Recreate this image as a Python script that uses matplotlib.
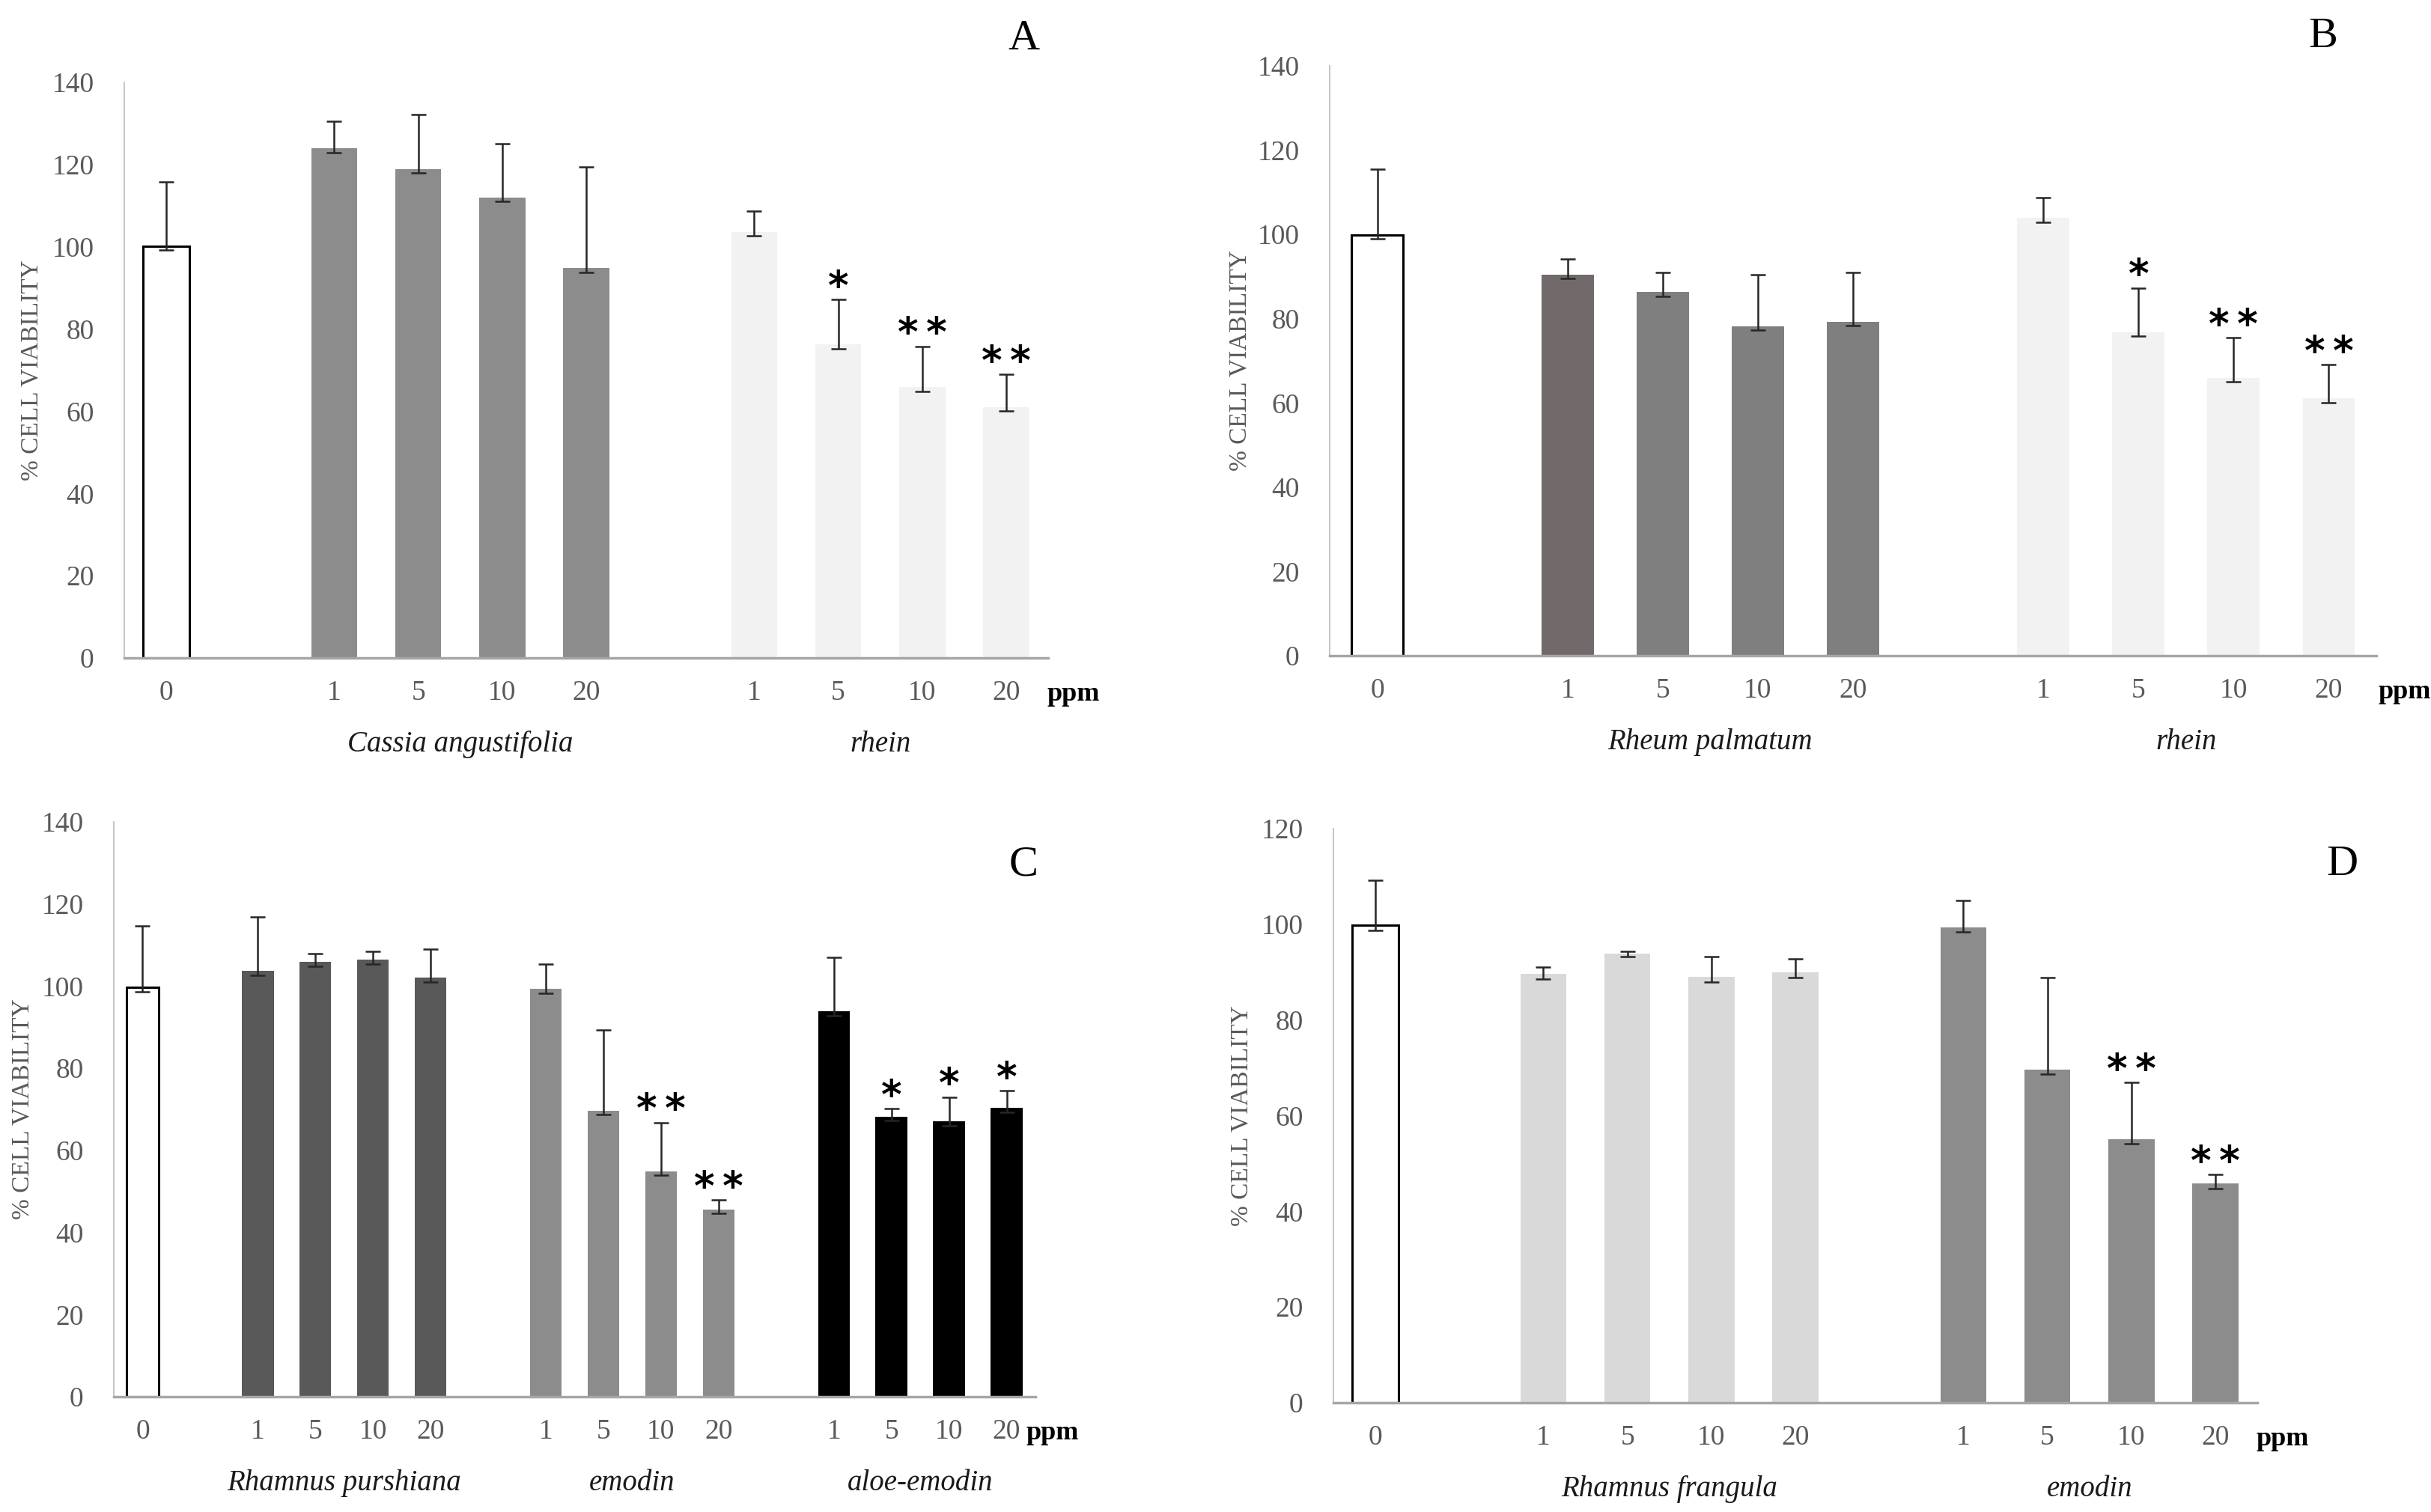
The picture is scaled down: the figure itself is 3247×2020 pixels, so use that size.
import matplotlib.pyplot as plt
import numpy as np

plt.rcParams['font.family'] = ['Liberation Serif', 'DejaVu Serif']

W, H = 3248, 2020
doses = ['1', '5', '10', '20']

# --- Panel A ---
a_control, a_control_err = 100.2, 15.6
a_cassia = [123.9, 118.9, 112.0, 94.8]
a_cassia_err = [6.6, 13.2, 13.0, 24.7]
a_rhein = [103.6, 76.2, 65.9, 61.0]
a_rhein_err = [5.1, 11.0, 9.9, 8.0]
a_rhein_stars = ['', '*', '**', '**']

# --- Panel B ---
b_control, b_control_err = 99.9, 15.6
b_rheum = [90.5, 86.3, 78.2, 79.3]
b_rheum_err = [3.7, 4.7, 12.3, 11.7]
b_rhein = [103.9, 76.8, 66.0, 61.1]
b_rhein_err = [4.8, 10.5, 9.5, 8.0]
b_rhein_stars = ['', '*', '**', '**']

# --- Panel C ---
c_control, c_control_err = 99.7, 15.0
c_purshiana = [103.7, 105.9, 106.4, 102.0]
c_purshiana_err = [13.1, 2.1, 2.1, 7.1]
c_emodin = [99.3, 69.7, 54.9, 45.6]
c_emodin_err = [6.0, 19.7, 11.9, 2.3]
c_emodin_stars = ['', '', '**', '**']
c_aloe = [93.8, 68.2, 67.0, 70.3]
c_aloe_err = [13.2, 2.0, 6.0, 4.2]
c_aloe_stars = ['', '*', '*', '*']

# --- Panel D ---
d_control, d_control_err = 99.8, 9.4
d_frangula = [89.6, 93.8, 89.0, 89.9]
d_frangula_err = [1.5, 0.5, 4.3, 2.8]
d_emodin = [99.4, 69.7, 55.1, 45.8]
d_emodin_err = [5.6, 19.2, 11.8, 1.9]
d_emodin_stars = ['', '', '**', '**']

no_stars = ['', '', '', '']

panels = [
    dict(letter='A', rect=(166, 1400, 110, 879), ymax=140, letter_xy=(1367, 52), ylab_x=58,
         control=(a_control, a_control_err),
         groups=[('Cassia angustifolia', a_cassia, a_cassia_err, ['#8c8c8c'] * 4, no_stars),
                 ('rhein', a_rhein, a_rhein_err, ['#f2f2f2'] * 4, a_rhein_stars)]),
    dict(letter='B', rect=(1776, 3174, 88, 876), ymax=140, letter_xy=(3103, 49), ylab_x=1672,
         control=(b_control, b_control_err),
         groups=[('Rheum palmatum', b_rheum, b_rheum_err, ['#726a6a', '#7f7f7f', '#7f7f7f', '#7f7f7f'], no_stars),
                 ('rhein', b_rhein, b_rhein_err, ['#f2f2f2'] * 4, b_rhein_stars)]),
    dict(letter='C', rect=(152, 1383, 1098, 1866), ymax=140, letter_xy=(1367, 1155), ylab_x=46,
         control=(c_control, c_control_err),
         groups=[('Rhamnus purshiana', c_purshiana, c_purshiana_err, ['#595959'] * 4, no_stars),
                 ('emodin', c_emodin, c_emodin_err, ['#8c8c8c'] * 4, c_emodin_stars),
                 ('aloe-emodin', c_aloe, c_aloe_err, ['#000000'] * 4, c_aloe_stars)]),
    dict(letter='D', rect=(1781, 3015, 1107, 1874), ymax=120, letter_xy=(3128, 1155), ylab_x=1674,
         control=(d_control, d_control_err),
         groups=[('Rhamnus frangula', d_frangula, d_frangula_err, ['#d9d9d9'] * 4, no_stars),
                 ('emodin', d_emodin, d_emodin_err, ['#8c8c8c'] * 4, d_emodin_stars)]),
]

fig = plt.figure(figsize=(W / 100, H / 100), dpi=100)
fig.patch.set_facecolor('white')

for p in panels:
    x0, x1, ytop, ybot = p['rect']
    ax = fig.add_axes([x0 / W, (H - ybot) / H, (x1 - x0) / W, (ybot - ytop) / H])
    n_slots = 1 + 5 * len(p['groups'])

    # control bar
    cval, cerr = p['control']
    ax.bar(0, cval, width=0.55, color='white', edgecolor='black', linewidth=2.2, zorder=2)
    ax.errorbar(0, cval, yerr=[[min(cerr, 1.0)], [cerr]], fmt='none', ecolor='#262626',
                elinewidth=1.8, capsize=7, capthick=1.8, zorder=3)

    ticks = [0]
    ticklabels = ['0']
    for g, (name, vals, errs, cols, stars) in enumerate(p['groups']):
        xs = np.arange(4) + 2 + 5 * g
        ax.bar(xs, vals, width=0.55, color=cols, edgecolor='none', zorder=2)
        lo = [min(e, 1.0) for e in errs]
        ax.errorbar(xs, vals, yerr=[lo, errs], fmt='none', ecolor='#262626',
                    elinewidth=1.8, capsize=7, capthick=1.8, zorder=3)
        for x, v, e, s in zip(xs, vals, errs, stars):
            if s:
                ax.annotate('\u2009'.join(s), xy=(x, v + e), xytext=(0, 11), textcoords='offset points',
                            ha='center', va='center', fontsize=38, fontweight='bold',
                            family='DejaVu Sans', color='black')
        ticks += list(xs)
        ticklabels += doses
        ax.annotate(name, xy=((xs[0] + xs[-1]) / 2, 0), xycoords=('data', 'axes fraction'),
                    xytext=(0, -83), textcoords='offset points', ha='center', va='center',
                    fontsize=28, style='italic', color='#1a1a1a')

    ax.annotate('ppm', xy=(n_slots - 1 + 0.8, 0), xycoords=('data', 'axes fraction'),
                xytext=(0, -35), textcoords='offset points', ha='center', va='center',
                fontsize=26, fontweight='bold', color='black')

    ax.set_xlim(-0.5, n_slots - 0.5)
    ax.set_ylim(0, p['ymax'])
    ax.set_yticks(np.arange(0, p['ymax'] + 1, 20))
    ax.set_xticks(ticks)
    ax.set_xticklabels(ticklabels)
    ax.tick_params(axis='both', length=0, labelsize=27, labelcolor='#595959')
    ax.tick_params(axis='y', pad=29)
    ax.tick_params(axis='x', pad=21)

    for side in ['top', 'right']:
        ax.spines[side].set_visible(False)
    ax.spines['left'].set_color('#bfbfbf')
    ax.spines['left'].set_linewidth(1.3)
    ax.spines['bottom'].set_color('#a6a6a6')
    ax.spines['bottom'].set_linewidth(2.5)
    ax.spines['bottom'].set_zorder(4)

    ax.set_ylabel('% CELL VIABILITY', fontsize=24, color='#595959')
    ax.yaxis.set_label_coords((p['ylab_x'] - x0) / (x1 - x0), 0.5)

    lx, ly = p['letter_xy']
    fig.text(lx / W, 1 - ly / H, p['letter'], fontsize=42, ha='center', va='center', color='black')

fig.savefig('out.png', dpi=100, facecolor='white')
